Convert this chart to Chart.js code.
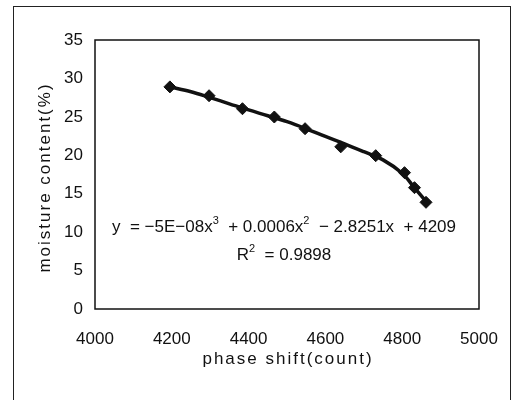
<!DOCTYPE html>
<html>
<head>
<meta charset="utf-8">
<script src="https://cdn.jsdelivr.net/npm/chart.js@4.4.1/dist/chart.umd.min.js"></script>
<style>
  html, body { margin: 0; padding: 0; background: #fff; overflow: hidden; }
  #wrap { position: relative; width: 528px; height: 400px; }
  #frame { position: absolute; left: 13px; top: 6px; width: 498px; height: 420px; border: 1px solid #222; box-sizing: border-box; }
  canvas { position: absolute; left: 0; top: 0; }
</style>
</head>
<body>
<div id="wrap">
  <div id="frame"></div>
  <canvas id="myChart" width="528" height="400"></canvas>
</div>
<script>
// measured points
const phaseShift = [4195, 4297, 4384, 4467, 4547, 4640, 4731, 4806, 4832, 4862];
const moisture = [28.9, 27.75, 26.06, 24.98, 23.46, 21.1, 19.95, 17.74, 15.79, 13.88];

// trend line
const trendX = [4195, 4250, 4300, 4350, 4400, 4450, 4500, 4550, 4600, 4650, 4700, 4750, 4800, 4830, 4862];
const trendY = [28.9, 28.27, 27.5, 26.7, 25.9, 25.15, 24.37, 23.45, 22.45, 21.5, 20.47, 19.4, 17.66, 15.9, 14.0];

const xTicks = [4000, 4200, 4400, 4600, 4800, 5000];
const yTicks = [0, 5, 10, 15, 20, 25, 30, 35];

const xTitle = 'phase shift(count)';
const yTitle = 'moisture content(%)';
// equation pieces: [text, superscript?]
const equation = [['y  = \u22125E\u221208x', 0], ['3', 1], ['  + 0.0006x', 0], ['2', 1], ['  \u2212 2.8251x  + 4209', 0]];
const rSquared = [['R', 0], ['2', 1], ['  = 0.9898', 0]];

const fontFamily = '"Liberation Sans", Arial, sans-serif';
const ink = '#111';

function drawPieces(ctx, pieces, cx, cy) {
  const big = '17px ' + fontFamily, small = '11px ' + fontFamily;
  let w = 0;
  pieces.forEach(p => { ctx.font = p[1] ? small : big; w += ctx.measureText(p[0]).width; });
  let x = cx - w / 2;
  ctx.textAlign = 'left';
  pieces.forEach(p => {
    ctx.font = p[1] ? small : big;
    ctx.textBaseline = 'middle';
    ctx.fillText(p[0], x, p[1] ? cy - 6 : cy);
    x += ctx.measureText(p[0]).width;
  });
}

// box around the plot area, axis titles, trend equation text
const plotExtras = {
  id: 'plotExtras',
  afterDraw(chart) {
    const { ctx, chartArea: a } = chart;
    ctx.save();
    ctx.strokeStyle = ink;
    ctx.lineWidth = 1.5;
    ctx.strokeRect(a.left, a.top, a.right - a.left, a.bottom - a.top);
    ctx.fillStyle = ink;

    drawPieces(ctx, equation, 284, 227);
    drawPieces(ctx, rSquared, 284, 255);

    ctx.font = '17px ' + fontFamily;
    ctx.letterSpacing = '2px';
    ctx.textAlign = 'center';
    ctx.textBaseline = 'middle';
    ctx.fillText(xTitle, (a.left + a.right) / 2 + 1, 359);
    ctx.translate(45, (a.top + a.bottom) / 2 + 3);
    ctx.rotate(-Math.PI / 2);
    ctx.fillText(yTitle, 0, 0);
    ctx.restore();
  }
};

const ctx = document.getElementById('myChart').getContext('2d');
const myChart = new Chart(ctx, {
  type: 'scatter',
  data: {
    datasets: [{
      label: 'moisture',
      data: phaseShift.map((x, i) => ({ x: x, y: moisture[i] })),
      pointStyle: 'rectRot',
      pointRadius: 6,
      backgroundColor: ink,
      borderColor: ink,
      showLine: false,
      order: 0
    }, {
      label: 'trend',
      data: trendX.map((x, i) => ({ x: x, y: trendY[i] })),
      showLine: true,
      pointRadius: 0,
      borderColor: ink,
      borderWidth: 3.5,
      tension: 0.35,
      order: 1
    }]
  },
  options: {
    responsive: false,
    animation: false,
    layout: { padding: { left: 0, top: 40, right: 49, bottom: 0 } },
    plugins: { legend: { display: false }, tooltip: { enabled: false } },
    scales: {
      x: {
        type: 'linear',
        min: 4000, max: 5000,
        afterBuildTicks: s => { s.ticks = xTicks.map(v => ({ value: v })); },
        afterFit: s => { s.height = 91; },
        grid: { display: false, drawTicks: false },
        border: { display: false },
        ticks: { color: ink, padding: 20, font: { family: fontFamily, size: 17 }, callback: v => String(v) }
      },
      y: {
        type: 'linear',
        min: 0, max: 35,
        afterBuildTicks: s => { s.ticks = yTicks.map(v => ({ value: v })); },
        afterFit: s => { s.width = 95; },
        grid: { display: false, drawTicks: false },
        border: { display: false },
        ticks: { color: ink, padding: 12, font: { family: fontFamily, size: 17 }, callback: v => String(v) }
      }
    }
  },
  plugins: [plotExtras]
});
</script>
</body>
</html>
